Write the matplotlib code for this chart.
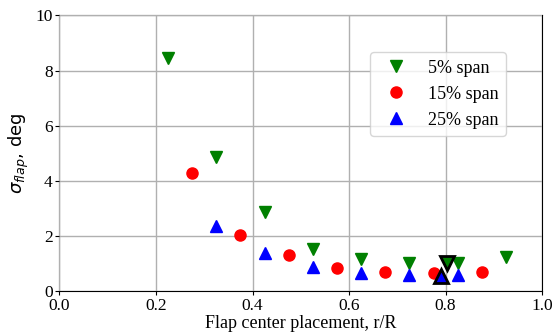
import matplotlib
matplotlib.use("Agg")
import matplotlib.pyplot as plt

plt.rcParams['font.family'] = ['Liberation Serif', 'DejaVu Serif']
plt.rcParams['mathtext.fontset'] = 'dejavusans'

x5 = [0.225, 0.325, 0.425, 0.525, 0.625, 0.725, 0.825, 0.925]
y5 = [8.45, 4.85, 2.88, 1.53, 1.16, 1.02, 1.02, 1.25]
x15 = [0.275, 0.375, 0.475, 0.575, 0.675, 0.775, 0.875]
y15 = [4.28, 2.04, 1.32, 0.84, 0.68, 0.67, 0.69]
x25 = [0.325, 0.425, 0.525, 0.625, 0.725, 0.825]
y25 = [2.36, 1.37, 0.88, 0.64, 0.58, 0.58]
opt5 = (0.803, 1.02)
opt25 = (0.79, 0.55)

fig = plt.figure(figsize=(5.56, 3.36), dpi=100)
ax = fig.add_axes([0.107, 0.134, 0.868, 0.820])

ms = 8
ax.plot(x5, y5, 'v', color='green', ms=ms, ls='none', label='5% span', zorder=4)
ax.plot(x15, y15, 'o', color='red', ms=ms, ls='none', label='15% span', zorder=4)
ax.plot(x25, y25, '^', color='blue', ms=ms, ls='none', label='25% span', zorder=4)
ax.plot([opt5[0]], [opt5[1]], 'v', mfc='green', mec='black', mew=2, ms=9.5, zorder=5)
ax.plot([opt25[0]], [opt25[1]], '^', mfc='blue', mec='black', mew=2, ms=9.5, zorder=5)

ax.set_xlim(0, 1.0)
ax.set_ylim(0, 10)
ax.set_xticks([0, 0.2, 0.4, 0.6, 0.8, 1.0])
ax.set_yticks([0, 2, 4, 6, 8, 10])
ax.grid(True, color='#b0b0b0', lw=1.0)
ax.xaxis.set_zorder(3)
ax.yaxis.set_zorder(3)
ax.tick_params(labelsize=12.5, pad=2, length=3)
ax.set_xlabel('Flap center placement, r/R', fontsize=13, labelpad=1)
ax.set_ylabel(r'$\sigma_{flap}$, deg', fontsize=13, labelpad=3, family='DejaVu Sans')

leg = ax.legend(loc='upper right', bbox_to_anchor=(0.925, 0.866), borderaxespad=0,
                fontsize=13, numpoints=1)

fig.savefig('out.png', dpi=100)
